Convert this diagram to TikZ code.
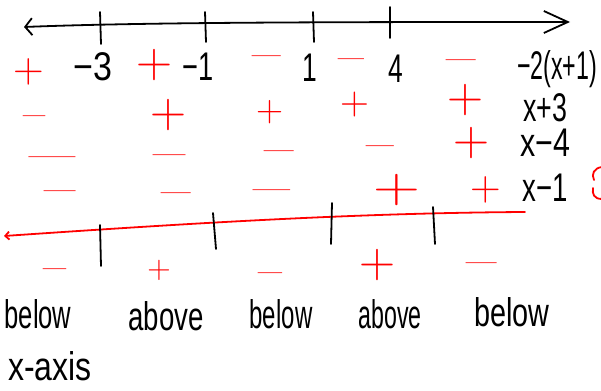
\documentclass[tikz,border=0pt]{standalone}
\usepackage{fontspec}
\setmainfont{Liberation Sans}
\newfontfamily\signfont{Latin Modern Roman}
\usetikzlibrary{arrows.meta}
\begin{document}
\begin{tikzpicture}[x=1pt,y=-1pt,line cap=round,line join=round,
  ink/.style={line width=1.8pt,black},
  rink/.style={line width=1.8pt,red},
  lbl/.style={font=\fontsize{40}{44}\selectfont,xscale=#1,inner sep=0pt,text=black},
  lbl/.default=0.66,
  pl/.style={font=\signfont\fontsize{50}{54}\selectfont,inner sep=0pt,text=red,scale=#1},
  pl/.default=1,
  mn/.style={font=\signfont\fontsize{50}{54}\selectfont,inner sep=0pt,text=red,xscale=#1,yshift=-6pt},
  mn/.default=1.2]
\useasboundingbox (0,0) rectangle (601,390);
% top number line
\coordinate (tl) at (24,27);
\coordinate (tr) at (570,22);
\draw[ink,{Straight Barb[length=7pt,width=17pt]}-{Straight Barb[length=24pt,width=22pt]}] (tl) .. controls (150,22) and (350,22) .. (tr);
\draw[ink] (100,12) -- (101,44);
\draw[ink] (205,12) -- (206,42);
\draw[ink] (313,12) -- (314,42);
\draw[ink] (390,7) -- (390,38);
% row 1
\node[lbl=0.85] (m3) at (93,67) {−3};
\node[lbl=0.68] (m1) at (198,67) {−1};
\node[lbl] (p1) at (310,68) {1};
\node[lbl] (p4) at (396,69) {4};
\node[lbl=0.58] (f1) at (557,69) {−2(x+1)};
\node[pl=0.85] (a1) at (29,72) {+};
\node[pl] (b1) at (154,65) {+};
\node[mn=1.24] (c1) at (267,57) {–};
\node[mn=1.12] (d1) at (351,60) {–};
\node[mn=1.28] (e1) at (461,61) {–};
% row 2
\node[lbl=0.67] (f2) at (545,108) {x+3};
\node[mn=0.96] (a2) at (35,117) {–};
\node[pl] (b2) at (168,115) {+};
\node[pl=0.75] (c2) at (270,112) {+};
\node[pl=0.8] (d2) at (355,105) {+};
\node[pl] (e2) at (465,100) {+};
% row 3
\node[lbl=0.76] (f3) at (545,143) {x−4};
\node[mn=2.0] (a3) at (52,158) {–};
\node[mn=1.4] (b3) at (170,156) {–};
\node[mn=1.28] (c3) at (279,152) {–};
\node[mn=1.2] (d3) at (380,147) {–};
\node[pl] (e3) at (471,143) {+};
% row 4
\node[lbl=0.69] (f4) at (545,188) {x−1};
\node[mn=1.36] (a4) at (60,192) {–};
\node[mn=1.28] (b4) at (176,194) {–};
\node[mn=1.6] (c4) at (272,191) {–};
\node[pl,xscale=1.3] (d4) at (397,190) {+};
\node[pl=0.85] (e4) at (486,190) {+};
% partial red mark at the right edge
\draw[rink] (602,167) .. controls (594,168) and (591,174) .. (594,180);
\draw[rink] (593,188) .. controls (592,194) and (594,199) .. (602,199);
% bottom line
\coordinate (bl) at (4,236);
\coordinate (br) at (525,212);
\draw[rink,{Straight Barb[length=4pt,width=8pt]}-] (bl) .. controls (180,224) and (350,213) .. (br);
\draw[ink] (100,225) -- (101,266);
\draw[ink] (213,213) -- (216,249);
\draw[ink] (332,203) -- (331,244);
\draw[ink] (433,207) -- (435,244);
% bottom signs
\node[mn=1.0] (g1) at (55,270) {–};
\node[pl=0.65] (g2) at (159,270) {+};
\node[mn=1.04] (g3) at (270,274) {–};
\node[pl] (g4) at (377,265) {+};
\node[mn=1.32] (g5) at (482,264) {–};
% labels
\node[lbl=0.64] (h1) at (38,314) {below};
\node[lbl=0.69] (h2) at (166,316) {above};
\node[lbl=0.6] (h3) at (281,314) {below};
\node[lbl=0.58] (h4) at (390,314) {above};
\node[lbl=0.72] (h5) at (512,312) {below};
\node[lbl=0.8] (h6) at (50,366) {x-axis};
\end{tikzpicture}
\end{document}
